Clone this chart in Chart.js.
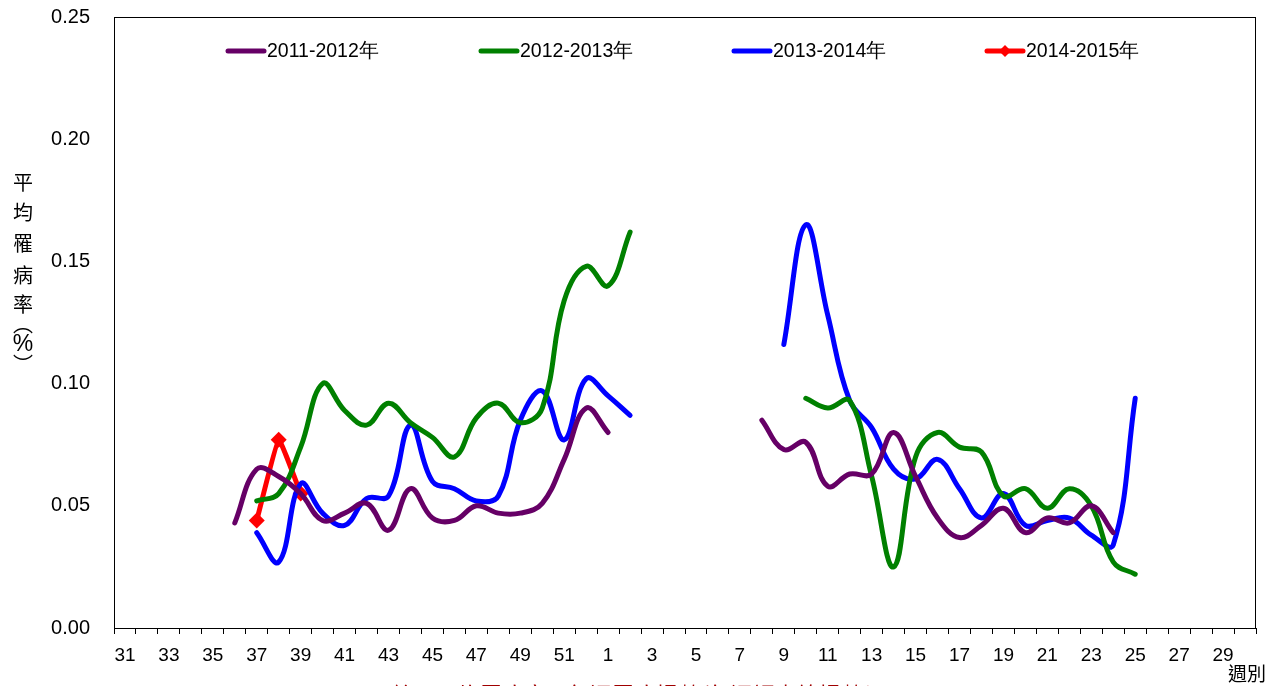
<!DOCTYPE html>
<html>
<head>
<meta charset="utf-8">
<script src="https://cdn.jsdelivr.net/npm/chart.js@4"></script>
<style>
  body { margin: 0; background: #fff; }
  canvas { display: block; }
</style>
</head>
<body>
<canvas id="graficoSemanas" width="1283" height="686"></canvas>
<script>
// weeks 31..52 then 1..30
const semanas = [31, 32, 33, 34, 35, 36, 37, 38, 39, 40, 41, 42, 43, 44, 45, 46, 47, 48, 49, 50, 51, 52,
                 1, 2, 3, 4, 5, 6, 7, 8, 9, 10, 11, 12, 13, 14, 15, 16, 17, 18, 19, 20,
                 21, 22, 23, 24, 25, 26, 27, 28, 29, 30];

const nomesSeries = ['2011-2012年', '2012-2013年', '2013-2014年', '2014-2015年'];

const serie2011 = [null, null, null, null, null,
  0.043, 0.065, 0.062, 0.055, 0.044, 0.047, 0.051, 0.040, 0.057, 0.045, 0.044, 0.050, 0.047, 0.047, 0.051, 0.069, 0.090, 0.080,
  null, null, null, null, null, null,
  0.085, 0.073, 0.076, 0.058, 0.063, 0.063, 0.080, 0.062, 0.045, 0.037, 0.042, 0.049, 0.039, 0.045, 0.043, 0.050, 0.039,
  null, null, null, null, null, null];

const serie2012 = [null, null, null, null, null, null,
  0.052, 0.055, 0.074, 0.100, 0.089, 0.083, 0.092, 0.084, 0.078, 0.070, 0.086, 0.092, 0.084, 0.090, 0.134, 0.148, 0.140, 0.162,
  null, null, null, null, null, null, null,
  0.094, 0.090, 0.093, 0.062, 0.025, 0.070, 0.080, 0.074, 0.072, 0.054, 0.057, 0.049, 0.057, 0.050, 0.027, 0.022,
  null, null, null, null, null];

const serie2013 = [null, null, null, null, null, null,
  0.039, 0.027, 0.059, 0.047, 0.042, 0.053, 0.054, 0.083, 0.060, 0.057, 0.052, 0.054, 0.085, 0.097, 0.077, 0.102, 0.095, 0.087,
  null, null, null, null, null, null,
  0.116, 0.165, 0.128, 0.093, 0.082, 0.065, 0.061, 0.069, 0.057, 0.045, 0.055, 0.042, 0.044, 0.045, 0.038, 0.034, 0.094,
  null, null, null, null, null];

const serie2014 = [null, null, null, null, null, null,
  0.044, 0.077, 0.055,
  null, null, null, null, null, null, null, null, null, null, null, null, null, null, null, null,
  null, null, null, null, null, null, null, null, null, null, null, null, null, null, null, null,
  null, null, null, null, null, null, null, null, null, null, null];

const yTicks = [0, 0.05, 0.10, 0.15, 0.20, 0.25];
const tituloY = ['平', '均', '罹', '病', '率', '︵', '%', '︶'];
const tituloX = '週別';
const nota = '註：平均罹病率＝每週罹病場數/每週調查總場數*100%';

const cores = ['#660066', '#008000', '#0000FF', '#FF0000'];
const fonte = '"Liberation Sans", Arial, sans-serif';
const fonteCJK = '"Noto Sans CJK TC", "Noto Sans CJK SC", sans-serif';

// box around the plot area + texts outside the axes
const molduraPlugin = {
  id: 'moldura',
  beforeDatasetsDraw(chart) {
    const { ctx, chartArea: a } = chart;
    ctx.save();
    ctx.strokeStyle = '#000';
    ctx.lineWidth = 1;
    ctx.strokeRect(a.left + 0.5, a.top + 0.5, a.right - a.left - 1, a.bottom - a.top);
    ctx.restore();
  },
  afterDraw(chart) {
    const { ctx } = chart;
    ctx.save();
    ctx.fillStyle = '#000';
    ctx.textAlign = 'center';
    ctx.textBaseline = 'middle';
    const posY = [182, 212, 243, 275, 304, 324, 345, 364];
    tituloY.forEach((c, i) => {
      ctx.font = (c === '%' ? '23px ' + fonte : '20px ' + fonteCJK);
      ctx.fillText(c, 23, posY[i]);
    });
    ctx.textAlign = 'left';
    ctx.font = '19px ' + fonteCJK;
    ctx.fillText(tituloX, 1228, 674);
    ctx.fillStyle = '#A00000';
    ctx.textBaseline = 'top';
    ctx.font = '22px ' + fonteCJK;
    ctx.fillText(nota, 392, 683.5);
    ctx.restore();
  }
};

// legend drawn inside the plot, line + text
const legendaPlugin = {
  id: 'legendaInterna',
  afterDatasetsDraw(chart) {
    const { ctx, chartArea: a } = chart;
    ctx.save();
    chart.data.datasets.forEach((ds, i) => {
      const x0 = a.left + 114 + i * 253;
      const y = 51;
      ctx.strokeStyle = ds.borderColor;
      ctx.lineWidth = 5;
      ctx.lineCap = 'round';
      ctx.beginPath();
      ctx.moveTo(x0, y);
      ctx.lineTo(x0 + 36, y);
      ctx.stroke();
      if (ds.pointRadius > 0) {
        const cx = x0 + 18, r = 6;
        ctx.fillStyle = ds.borderColor;
        ctx.beginPath();
        ctx.moveTo(cx, y - r); ctx.lineTo(cx + r, y); ctx.lineTo(cx, y + r); ctx.lineTo(cx - r, y);
        ctx.closePath();
        ctx.fill();
      }
      ctx.fillStyle = '#000';
      ctx.textBaseline = 'middle';
      ctx.textAlign = 'left';
      ctx.font = '19.5px ' + fonte;
      ctx.fillText(ds.label, x0 + 39, y + 1);
    });
    ctx.restore();
  }
};

document.addEventListener('DOMContentLoaded', () => {
  const ctx = document.getElementById('graficoSemanas');
  const series = [serie2011, serie2012, serie2013, serie2014];

  new Chart(ctx, {
    type: 'line',
    data: {
      labels: semanas,
      datasets: series.map((dados, i) => ({
        label: nomesSeries[i],
        data: dados,
        borderColor: cores[i],
        backgroundColor: cores[i],
        borderWidth: 5,
        borderCapStyle: 'round',
        borderJoinStyle: 'round',
        tension: i === 3 ? 0.1 : 0.4,
        pointRadius: i === 3 ? 8 : 0,
        pointStyle: 'rectRot',
        pointBorderWidth: 0,
        spanGaps: false,
        fill: false
      }))
    },
    options: {
      responsive: false,
      animation: false,
      layout: { autoPadding: false, padding: { top: 17, right: 27, left: 0, bottom: 0 } },
      plugins: {
        legend: { display: false },
        tooltip: { enabled: false }
      },
      scales: {
        x: {
          offset: true,
          grid: { display: true, drawOnChartArea: false, drawTicks: true, tickLength: 6, color: '#000', offset: true },
          border: { display: true, color: '#000' },
          ticks: {
            autoSkip: false,
            maxRotation: 0,
            padding: 10,
            color: '#000',
            font: { family: fonte, size: 19 },
            callback: (v, i) => (i % 2 === 0 ? semanas[i] : '')
          },
          afterFit: (s) => { s.height = 58; }
        },
        y: {
          min: 0,
          max: 0.25,
          afterBuildTicks: (s) => { s.ticks = yTicks.map(v => ({ value: v })); },
          grid: { display: false, drawTicks: false },
          border: { display: true, color: '#000' },
          ticks: {
            padding: 24,
            color: '#000',
            font: { family: fonte, size: 20 },
            callback: (v) => Number(v).toFixed(2)
          },
          afterFit: (s) => { s.width = 114; s.paddingTop = 0; }
        }
      }
    },
    plugins: [molduraPlugin, legendaPlugin]
  });
});
</script>
</body>
</html>
